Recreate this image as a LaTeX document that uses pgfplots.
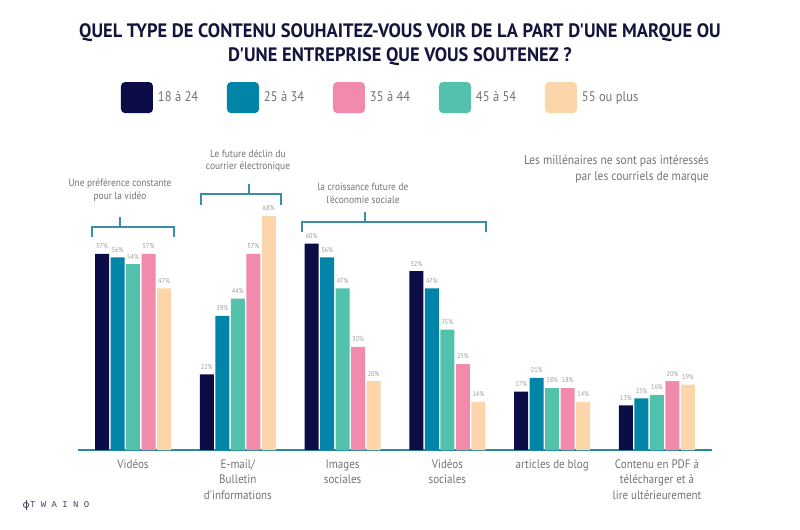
\documentclass[border=0pt]{standalone}
\usepackage{pgfplots}
\pgfplotsset{compat=1.18}
\usepackage{pgfplotstable}
\usepackage{fontspec}
\setmainfont{PT Sans}
\newfontfamily\titlefont[FakeStretch=0.95]{PT Sans}
\newfontfamily\lightfont[FakeStretch=0.9]{PT Sans}
\newfontfamily\logofont{Liberation Mono}
\definecolor{cNavy}{HTML}{0C0C46}
\definecolor{cBlue}{HTML}{0084A8}
\definecolor{cGreen}{HTML}{52C2AD}
\definecolor{cPink}{HTML}{F28BAB}
\definecolor{cPeach}{HTML}{FDD5AA}
\definecolor{cLine}{HTML}{2A8A9C}
\definecolor{cBr}{HTML}{3A8FA3}
\definecolor{cTitle}{HTML}{14143C}
\definecolor{cText}{HTML}{737373}
\definecolor{cVal}{HTML}{9A9A9A}

\pgfplotstableread{
g n b gr p pe
0 57 56 54 57 47
1 22 39 44 57 68
2 60 56 47 30 20
3 52 47 35 25 14
4 17 21 18 18 14
5 13 15 16 20 19
}\datatable

\pgfplotsset{sq/.style={legend image code/.code={\fill[fill=#1,draw=none,rounded corners=4bp] (0bp,-15.5bp) rectangle (32bp,15.5bp);}}}

\begin{document}
\begin{tikzpicture}
\path[use as bounding box] (0bp,0bp) rectangle (800bp,530bp);

\begin{axis}[
  at={(78bp,80bp)}, anchor=south west,
  scale only axis, width=634bp, height=240.8bp,
  xmin=-0.525, xmax=5.525, ymin=0, ymax=70,
  axis x line=bottom, axis y line=none,
  x axis line style={-, line width=2.2bp, color=cLine},
  xtick={0,...,5},
  xticklabels={Vidéos,{E-mail/\\Bulletin\\d'informations},{Images\\sociales},{Vidéos\\sociales},articles de blog,{Contenu en PDF à\\télécharger et à\\lire ultérieurement}},
  xticklabel style={align=center, font=\lightfont\fontsize{12.3}{15.5}\selectfont, text=cText, yshift=-6bp},
  major tick length=0pt,
  clip=false,
  nodes near coords={\pgfmathprintnumber[assume math mode=true]{\pgfplotspointmeta}\%},
  every node near coord/.append style={font=\lightfont\fontsize{7}{8}\selectfont, text=cVal, yshift=1.5bp},
  legend style={at={(0.0678,1.528)}, anchor=north west, draw=none, fill=none,
    inner sep=0pt, outer sep=0pt, nodes={inner sep=0pt},
    font=\lightfont\fontsize{14}{16}\selectfont, text=cText,
    /tikz/every odd column/.append style={column sep=5bp},
    /tikz/every even column/.append style={column sep=5bp}},
  legend columns=5, legend cell align=left,
]
\addplot[ybar, bar width=14bp, bar shift=-31bp, fill=cNavy, draw=none, forget plot,
  every node near coord/.append style={xshift=-31bp}] table[x=g,y=n] {\datatable};
\addplot[ybar, bar width=14bp, bar shift=-15.5bp, fill=cBlue, draw=none, forget plot,
  every node near coord/.append style={xshift=-15.5bp}] table[x=g,y=b] {\datatable};
\addplot[ybar, bar width=14bp, bar shift=0bp, fill=cGreen, draw=none, forget plot] table[x=g,y=gr] {\datatable};
\addplot[ybar, bar width=14bp, bar shift=15.5bp, fill=cPink, draw=none, forget plot,
  every node near coord/.append style={xshift=15.5bp}] table[x=g,y=p] {\datatable};
\addplot[ybar, bar width=14bp, bar shift=31bp, fill=cPeach, draw=none, forget plot,
  every node near coord/.append style={xshift=31bp}] table[x=g,y=pe] {\datatable};
\addlegendimage{sq=cNavy}\addlegendentry{\makebox[64bp][l]{18 à 24}}
\addlegendimage{sq=cBlue}\addlegendentry{\makebox[64bp][l]{25 à 34}}
\addlegendimage{sq=cPink}\addlegendentry{\makebox[64bp][l]{35 à 44}}
\addlegendimage{sq=cGreen}\addlegendentry{\makebox[64bp][l]{45 à 54}}
\addlegendimage{sq=cPeach}\addlegendentry{\makebox[64bp][l]{55 ou plus}}
\end{axis}

\begin{scope}[x=1bp,y=1bp]
% title
\node[font=\titlefont\bfseries\fontsize{19.5}{24}\selectfont, text=cTitle, align=center] at (400,530-45)
  {QUEL TYPE DE CONTENU SOUHAITEZ-VOUS VOIR DE LA PART D'UNE MARQUE OU\\D'UNE ENTREPRISE QUE VOUS SOUTENEZ ?};
% annotations
\begin{scope}[cBr, line width=1.2bp]
\draw (92,530-237) -- (92,530-227) -- (174,530-227) -- (174,530-237);
\draw (120,530-227) -- (120,530-217);
\draw (201,530-205) -- (201,530-194) -- (281,530-194) -- (281,530-205);
\draw (249,530-194) -- (249,530-184);
\draw (302,530-232) -- (302,530-222) -- (486,530-222) -- (486,530-232);
\draw (365,530-222) -- (365,530-212);
\end{scope}
\begin{scope}[every node/.style={font=\lightfont\fontsize{10.5}{12.5}\selectfont, text=cText, align=center, inner sep=0pt}]
\node at (120,530-190.5) {Une préférence constante\\pour la vidéo};
\node at (248,530-161) {Le future déclin du\\courrier électronique};
\node at (363,530-193.5) {la croissance future de\\l'économie sociale};
\end{scope}
\node[font=\lightfont\fontsize{12.8}{16}\selectfont, text=cText, align=right, anchor=east, inner sep=0pt] at (709,530-169)
  {Les millénaires ne sont pas intéressés\\par les courriels de marque};
% logo
\draw[cTitle!80, line width=0.8bp] (26,530-505) circle (2.6);
\draw[cTitle!80, line width=0.8bp] (26,530-500) -- (26,530-510.5);
\node[font=\logofont\fontsize{9}{10}\selectfont, text=cTitle!80, anchor=west, inner sep=0pt] at (30,530-505) {T W A I N O};
\end{scope}
\end{tikzpicture}
\end{document}
